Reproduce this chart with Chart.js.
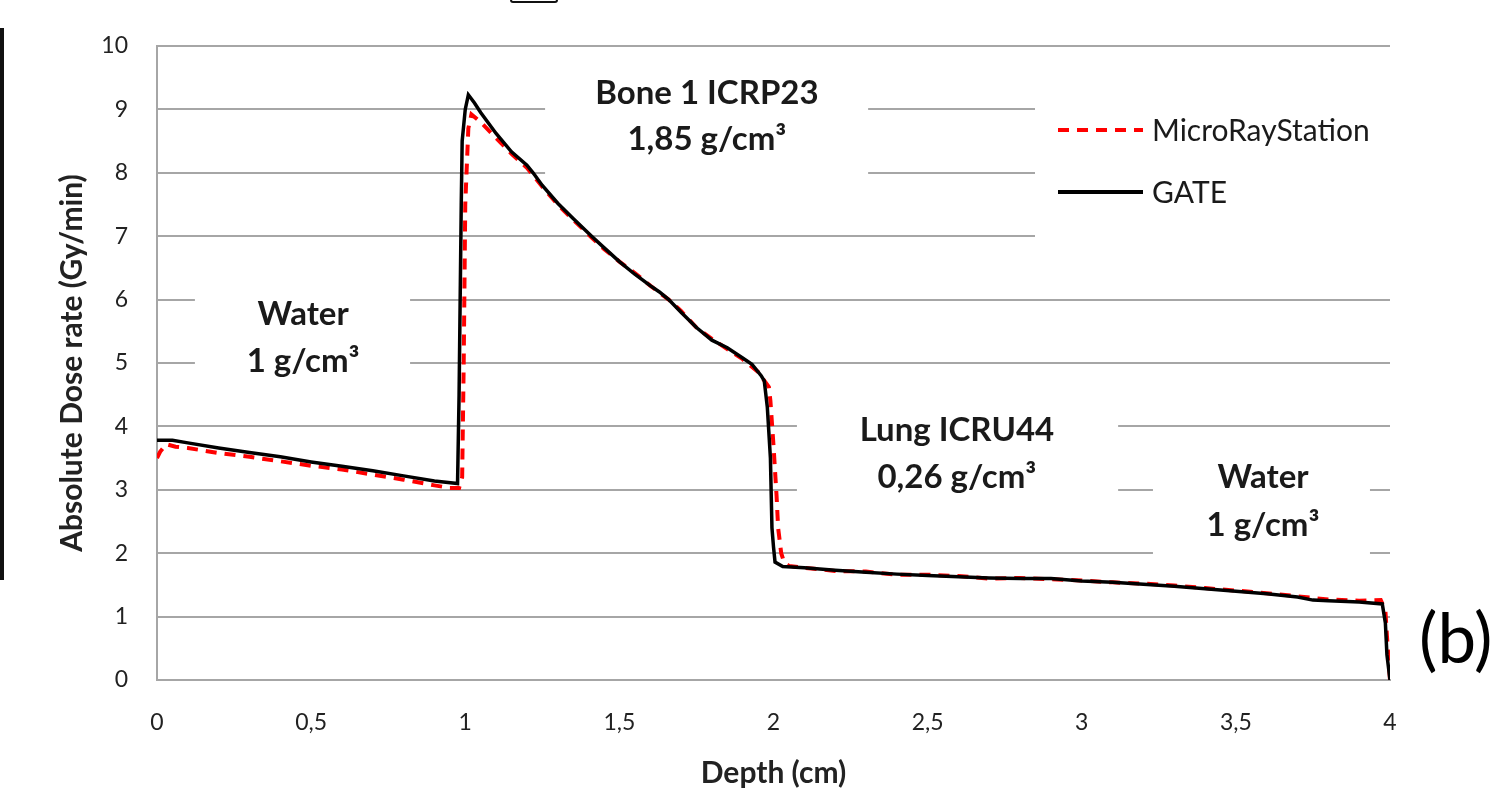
<!DOCTYPE html>
<html>
<head>
<meta charset="utf-8">
<script src="https://cdn.jsdelivr.net/npm/chart.js@4.4.1/dist/chart.umd.min.js"></script>
<style>
  html, body { margin: 0; padding: 0; background: #fff; }
  #wrap { position: relative; width: 1496px; height: 792px; overflow: hidden; }
  #edge { position: absolute; left: 0; top: 28px; width: 4px; height: 552px; background: #111; }
  #topbox { position: absolute; left: 510px; top: -10px; width: 44px; height: 9px; border: 2px solid #111; border-radius: 3px; }
</style>
</head>
<body>
<div id="wrap">
  <canvas id="c" width="1496" height="792"></canvas>
  <div id="edge"></div>
  <div id="topbox"></div>
</div>
<script>
// ---- Data ----
const depthGate = [0, 0.05, 0.1, 0.2, 0.3, 0.4, 0.5, 0.6, 0.7, 0.8, 0.9, 0.975, 0.98, 0.987, 0.99, 1.0, 1.01, 1.03, 1.05, 1.1, 1.15, 1.2, 1.22, 1.25, 1.3, 1.35, 1.41, 1.45, 1.5, 1.55, 1.6, 1.63, 1.66, 1.7, 1.75, 1.8, 1.85, 1.9, 1.93, 1.96, 1.97, 1.98, 1.99, 1.995, 2.0, 2.005, 2.03, 2.1, 2.2, 2.3, 2.4, 2.5, 2.6, 2.7, 2.8, 2.9, 3.0, 3.1, 3.2, 3.3, 3.4, 3.5, 3.6, 3.7, 3.75, 3.8, 3.9, 3.975, 3.985, 3.99, 4.0];
const doseGate  = [3.78, 3.78, 3.74, 3.66, 3.59, 3.52, 3.44, 3.37, 3.30, 3.22, 3.14, 3.10, 4.5, 7.5, 8.5, 9.0, 9.23, 9.1, 8.95, 8.62, 8.33, 8.12, 8.0, 7.8, 7.52, 7.28, 7.0, 6.82, 6.6, 6.4, 6.22, 6.12, 6.0, 5.8, 5.56, 5.36, 5.24, 5.08, 4.98, 4.8, 4.72, 4.3, 3.5, 2.4, 2.1, 1.86, 1.79, 1.77, 1.73, 1.70, 1.67, 1.65, 1.63, 1.61, 1.60, 1.60, 1.56, 1.54, 1.51, 1.48, 1.44, 1.40, 1.36, 1.31, 1.26, 1.25, 1.23, 1.20, 0.9, 0.4, 0];

const depthMRS = [0, 0.01, 0.03, 0.06, 0.1, 0.2, 0.3, 0.4, 0.5, 0.6, 0.7, 0.8, 0.9, 0.95, 0.98, 0.99, 0.995, 1.0, 1.01, 1.02, 1.05, 1.1, 1.15, 1.2, 1.25, 1.3, 1.35, 1.41, 1.45, 1.5, 1.55, 1.6, 1.66, 1.7, 1.75, 1.8, 1.85, 1.9, 1.95, 1.985, 1.99, 2.0, 2.01, 2.015, 2.025, 2.035, 2.05, 2.1, 2.2, 2.3, 2.4, 2.5, 2.6, 2.7, 2.8, 2.9, 3.0, 3.1, 3.2, 3.3, 3.4, 3.5, 3.6, 3.7, 3.8, 3.9, 3.97, 3.985, 3.99, 4.0];
const doseMRS  = [3.5, 3.6, 3.72, 3.68, 3.66, 3.58, 3.52, 3.45, 3.38, 3.32, 3.24, 3.16, 3.07, 3.03, 3.03, 3.2, 5.0, 7.5, 8.7, 8.92, 8.8, 8.55, 8.3, 8.08, 7.78, 7.5, 7.26, 6.98, 6.8, 6.6, 6.42, 6.22, 6.0, 5.82, 5.56, 5.38, 5.22, 5.06, 4.86, 4.62, 4.4, 3.7, 2.9, 2.4, 2.0, 1.85, 1.8, 1.77, 1.72, 1.71, 1.66, 1.66, 1.64, 1.60, 1.61, 1.59, 1.57, 1.54, 1.52, 1.49, 1.45, 1.41, 1.37, 1.32, 1.27, 1.25, 1.26, 1.1, 0.7, 0];

const xTicks = [0, 0.5, 1, 1.5, 2, 2.5, 3, 3.5, 4];
const yTicks = [0, 1, 2, 3, 4, 5, 6, 7, 8, 9, 10];
const seriesNames = ['MicroRayStation', 'GATE'];
const xTitle = 'Depth (cm)';
const yTitle = 'Absolute Dose rate (Gy/min)';

// Region labels: text lines, centre depth, line doses, and the white box (depth/dose)
const regionText = [
  ['Water', '1 g/cm³'],
  ['Bone 1 ICRP23', '1,85 g/cm³'],
  ['Lung ICRU44', '0,26 g/cm³'],
  ['Water', '1 g/cm³']
];
const regionCenterX = [0.474, 1.784, 2.595, 3.588];
const regionLineY = [[5.76, 5.02], [9.26, 8.52], [3.94, 3.20], [3.19, 2.44]];
const regionBox = [[0.123, 6.3, 0.821, 4.7], [1.259, 9.7, 2.307, 7.85], [2.076, 4.42, 3.118, 2.68], [3.231, 3.47, 3.935, 1.81]];

const FONT = 'Lato, "Open Sans", "Liberation Sans", sans-serif';
const GRID = '#a6a6a6';

const fmt = v => String(v).replace('.', ',');

const overlay = {
  id: 'overlay',
  beforeDatasetsDraw(chart) {
    const {ctx, scales: {x, y}} = chart;
    ctx.save();
    ctx.fillStyle = '#ffffff';
    regionBox.forEach(b => {
      const x0 = x.getPixelForValue(b[0]), x1 = x.getPixelForValue(b[2]);
      const y0 = y.getPixelForValue(b[1]), y1 = y.getPixelForValue(b[3]);
      ctx.fillRect(x0, y0, x1 - x0, y1 - y0);
    });
    // legend box
    ctx.fillRect(1035, 80, 400, 180);
    ctx.restore();
  },
  afterDatasetsDraw(chart) {
    const {ctx, scales: {x, y}} = chart;
    ctx.save();
    ctx.fillStyle = '#1a1a1a';
    ctx.textAlign = 'center';
    ctx.textBaseline = 'middle';
    ctx.font = 'bold 33px ' + FONT;
    regionText.forEach((lines, i) => {
      const cx = x.getPixelForValue(regionCenterX[i]);
      lines.forEach((t, j) => {
        ctx.fillText(t, cx, y.getPixelForValue(regionLineY[i][j]));
      });
    });
    // legend
    const ds = chart.data.datasets;
    const entries = [ds[1], ds[0]];
    const ys = [130, 192];
    entries.forEach((d, i) => {
      ctx.beginPath();
      ctx.strokeStyle = d.borderColor;
      ctx.lineWidth = 4;
      ctx.setLineDash(d.borderDash || []);
      ctx.moveTo(1058, ys[i]);
      ctx.lineTo(1143, ys[i]);
      ctx.stroke();
      ctx.setLineDash([]);
      ctx.fillStyle = '#1a1a1a';
      ctx.textAlign = 'left';
      ctx.font = '30px ' + FONT;
      ctx.fillText(d.label, 1152, ys[i] + 1);
    });
    // panel label
    ctx.font = '69px ' + FONT;
    ctx.fillStyle = '#000';
    ctx.textAlign = 'left';
    ctx.fillText('(b)', 1419, 641);
    ctx.restore();
  }
};

new Chart(document.getElementById('c'), {
  type: 'scatter',
  data: {
    datasets: [
      {
        label: seriesNames[1],
        data: depthGate.map((d, i) => ({x: d, y: doseGate[i]})),
        showLine: true,
        borderColor: '#000000',
        borderWidth: 3.5,
        pointRadius: 0,
        tension: 0,
        order: 0
      },
      {
        label: seriesNames[0],
        data: depthMRS.map((d, i) => ({x: d, y: doseMRS[i]})),
        showLine: true,
        borderColor: '#ff0000',
        borderWidth: 4,
        borderDash: [11, 8],
        pointRadius: 0,
        tension: 0,
        order: 1
      }
    ]
  },
  options: {
    responsive: false,
    animation: false,
    layout: { padding: { left: 0, top: 46, right: 106, bottom: 0 } },
    plugins: { legend: { display: false }, tooltip: { enabled: false } },
    scales: {
      x: {
        type: 'linear',
        min: 0, max: 4,
        afterBuildTicks: s => { s.ticks = xTicks.map(v => ({value: v})); },
        afterFit: s => { s.height = 112; },
        grid: { display: false, drawTicks: false },
        border: { display: true, color: GRID, width: 2 },
        ticks: { padding: 29, color: '#222', font: { family: FONT, size: 23 }, callback: v => fmt(v) },
        title: { display: true, text: xTitle, color: '#222', font: { family: FONT, size: 30, weight: 'bold' }, padding: { top: 0, bottom: 1 } }
      },
      y: {
        type: 'linear',
        min: 0, max: 10,
        afterBuildTicks: s => { s.ticks = yTicks.map(v => ({value: v})); },
        afterFit: s => { s.width = 157; },
        grid: { color: GRID, lineWidth: 2, drawTicks: false },
        border: { display: true, color: GRID, width: 2 },
        ticks: { padding: 29, color: '#222', font: { family: FONT, size: 23 }, callback: v => fmt(v) },
        title: { display: true, text: yTitle, color: '#222', font: { family: FONT, size: 30, weight: 'bold' }, padding: { top: 54, bottom: 0 } }
      }
    }
  },
  plugins: [overlay]
});
</script>
</body>
</html>
